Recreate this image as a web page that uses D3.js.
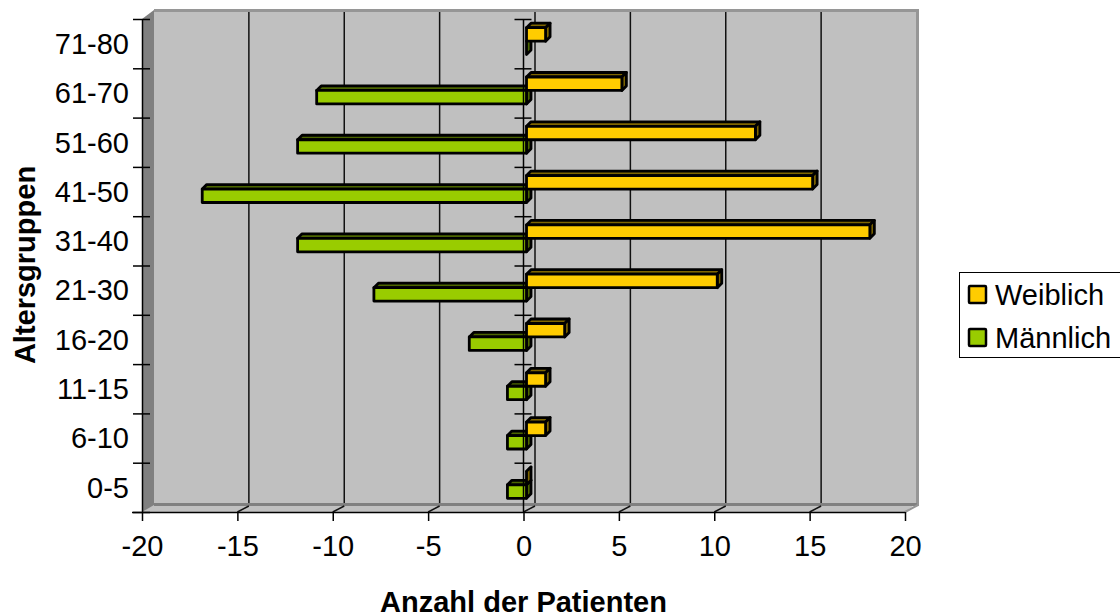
<!DOCTYPE html>
<html>
<head>
<meta charset="utf-8">
<script src="https://cdn.jsdelivr.net/npm/d3@7"></script>
<style>
body{margin:0;background:#fff;}
svg{display:block;}
text{font-family:"Liberation Sans",Arial,sans-serif;fill:#000;}
</style>
</head>
<body>
<svg width="1120" height="613"></svg>
<script>
var categories = ['0-5','6-10','11-15','16-20','21-30','31-40','41-50','51-60','61-70','71-80'];
var weiblich = [0,1,1,2,10,18,15,12,5,1];
var maennlich = [-1,-1,-1,-3,-8,-12,-17,-12,-11,0];
var seriesNames = ['Weiblich','Männlich'];
var xTicks = [-20,-15,-10,-5,0,5,10,15,20];

var front = {left:142,right:905,top:19,bottom:512};
var wall = {dx:12,dy:-9};        // back wall offset
var barShift = {dx:3,dy:-2.5};   // bars sit mid depth
var depth = 4.5;
var fontSize = 29;
var colors = {
	'Weiblich':{face:'#ffcc00',top:'#7f6600',side:'#7f6600'},
	'Männlich':{face:'#99cc00',top:'#4c6600',side:'#4c6600'}
};

var svg = d3.select('svg');

var xscale = d3.scaleLinear().domain([-20,20]).range([front.left,front.right]);
var yscale = d3.scaleBand().domain(categories).range([front.bottom,front.top]);
var yinner = d3.scaleBand().domain(seriesNames).range([0,yscale.bandwidth()]).paddingInner(0).paddingOuter(.83);
var yticks = d3.scaleLinear().domain([0,categories.length]).range([front.bottom,front.top]);

var pts = p => p.map(d => d.join(',')).join(' ');

// walls
var g = svg.append('g');
g.append('polygon').attr('fill','#c0c0c0')
	.attr('points',pts([[front.left+wall.dx,front.top+wall.dy],[front.right+wall.dx,front.top+wall.dy],[front.right+wall.dx,front.bottom+wall.dy],[front.left+wall.dx,front.bottom+wall.dy]]));
g.append('polygon').attr('fill','#c0c0c0')
	.attr('points',pts([[front.left,front.bottom],[front.left+wall.dx,front.bottom+wall.dy],[front.right+wall.dx,front.bottom+wall.dy],[front.right,front.bottom]]));
g.append('polygon').attr('fill','#808080')
	.attr('points',pts([[front.left,front.top],[front.left+wall.dx,front.top+wall.dy],[front.left+wall.dx,front.bottom+wall.dy+2],[front.left,front.bottom]]));
// wall edges
g.append('line').attr('x1',front.left+wall.dx).attr('x2',front.right+wall.dx+2).attr('y1',front.top+wall.dy+.5).attr('y2',front.top+wall.dy+.5).attr('stroke','#969696').attr('stroke-width',3);
g.append('line').attr('x1',front.right+wall.dx+.5).attr('x2',front.right+wall.dx+.5).attr('y1',front.top+wall.dy).attr('y2',front.bottom+wall.dy+3).attr('stroke','#969696').attr('stroke-width',3);
g.append('line').attr('x1',front.left+wall.dx).attr('x2',front.right+wall.dx).attr('y1',front.bottom+wall.dy+1.5).attr('y2',front.bottom+wall.dy+1.5).attr('stroke','#808080').attr('stroke-width',3);
g.append('line').attr('x1',front.right).attr('y1',front.bottom).attr('x2',front.right+wall.dx+1).attr('y2',front.bottom+wall.dy+2).attr('stroke','#969696').attr('stroke-width',2);

// grid on the back wall and floor
var grid = g.append('g').selectAll('g').data(xTicks.slice(1,-1)).enter().append('g')
	.attr('fill','none').attr('stroke','#111').attr('stroke-width',1.5);
grid.append('line').attr('x1',d => xscale(d)+wall.dx-.5).attr('x2',d => xscale(d)+wall.dx-.5)
	.attr('y1',front.top+wall.dy+2).attr('y2',front.bottom+wall.dy);
grid.append('line').attr('x1',d => xscale(d)+wall.dx-.5).attr('y1',front.bottom+wall.dy+3)
	.attr('x2',d => xscale(d)).attr('y2',front.bottom);

// bars
var barData = [];
categories.forEach((c,i) => {
	barData.push({cat:c,name:'Männlich',value:maennlich[i]});
	barData.push({cat:c,name:'Weiblich',value:weiblich[i]});
});

var bars = svg.append('g').selectAll('g').data(barData).enter().append('g')
	.attr('stroke','#000').attr('stroke-width',2.8).attr('stroke-linejoin','round');

function box(d){
	var x0 = Math.min(xscale(0),xscale(d.value)) + barShift.dx;
	var x1 = Math.max(xscale(0),xscale(d.value)) + barShift.dx;
	var y0 = yscale(d.cat) + yinner(d.name) + barShift.dy;
	var y1 = y0 + yinner.bandwidth();
	return {x0,x1,y0,y1};
}
bars.append('polygon').attr('fill',d => colors[d.name].top).attr('points',d => {
	var b = box(d);
	return pts([[b.x0,b.y0],[b.x0+depth,b.y0-depth],[b.x1+depth,b.y0-depth],[b.x1,b.y0]]);
});
bars.append('polygon').attr('fill',d => colors[d.name].side).attr('points',d => {
	var b = box(d);
	return pts([[b.x1,b.y0],[b.x1+depth,b.y0-depth],[b.x1+depth,b.y1-depth],[b.x1,b.y1]]);
});
bars.append('rect').attr('fill',d => colors[d.name].face)
	.attr('x',d => box(d).x0).attr('y',d => box(d).y0)
	.attr('width',d => box(d).x1-box(d).x0).attr('height',d => box(d).y1-box(d).y0);

// axes
var axisX = svg.append('g').attr('transform',`translate(0,${front.bottom})`)
	.call(d3.axisBottom(xscale).tickValues(xTicks).tickSize(9).tickPadding(14));
axisX.selectAll('text').attr('font-size',fontSize).attr('font-family','"Liberation Sans",Arial,sans-serif').text(d => d);
axisX.selectAll('line').attr('stroke','#000').attr('stroke-width',1.5);
axisX.select('.domain').attr('stroke','#000').attr('stroke-width',1.5).attr('d',`M${front.left-10},0.5H${front.right}`);

var axisY = svg.append('g').attr('transform',`translate(${front.left},0)`)
	.call(d3.axisLeft(yticks).tickValues(d3.range(categories.length+1)).tickSize(9).tickFormat(''));
axisY.selectAll('line').attr('x2',-9).attr('x1',8).attr('stroke','#000').attr('stroke-width',1.5);
axisY.select('.domain').attr('stroke','#000').attr('stroke-width',1.5).attr('d',`M0.5,${front.top}V${front.bottom}`);

var axisZero = svg.append('g').attr('transform',`translate(${xscale(0)},0)`)
	.call(d3.axisLeft(yticks).tickValues(d3.range(1,categories.length+1)).tickSize(9).tickFormat(''));
axisZero.selectAll('line').attr('x2',-9).attr('x1',8).attr('stroke','#000').attr('stroke-width',1.5);
axisZero.select('.domain').attr('stroke','#000').attr('stroke-width',1.5).attr('d',`M0,${front.top}V${front.bottom}`);

var labelsY = svg.append('g').attr('transform','translate(129,1)')
	.call(d3.axisLeft(yscale).tickSize(0).tickPadding(0));
labelsY.select('.domain').remove();
labelsY.selectAll('text').attr('font-size',fontSize).attr('font-family','"Liberation Sans",Arial,sans-serif');

// titles
svg.append('text').attr('x',523.5).attr('y',611.5).attr('text-anchor','middle')
	.attr('font-size',fontSize).attr('font-weight','bold').text('Anzahl der Patienten');
svg.append('text').attr('transform','translate(35,265) rotate(-90)').attr('text-anchor','middle')
	.attr('font-size',fontSize).attr('font-weight','bold').text('Altersgruppen');

// legend
svg.append('rect').attr('x',959.5).attr('y',272.5).attr('width',170).attr('height',85)
	.attr('fill','#fff').attr('stroke','#000').attr('stroke-width',1);
var legendRow = d3.scaleOrdinal().domain(seriesNames).range([286,329]);
var legend = svg.append('g').selectAll('g').data(seriesNames).enter().append('g')
	.attr('transform',d => `translate(969,${legendRow(d)})`);
legend.append('rect').attr('width',17).attr('height',17).attr('rx',1)
	.attr('fill',d => colors[d].face).attr('stroke','#000').attr('stroke-width',2.5);
legend.append('text').attr('x',26).attr('y',19).attr('font-size',fontSize).text(d => d);
</script>
</body>
</html>
